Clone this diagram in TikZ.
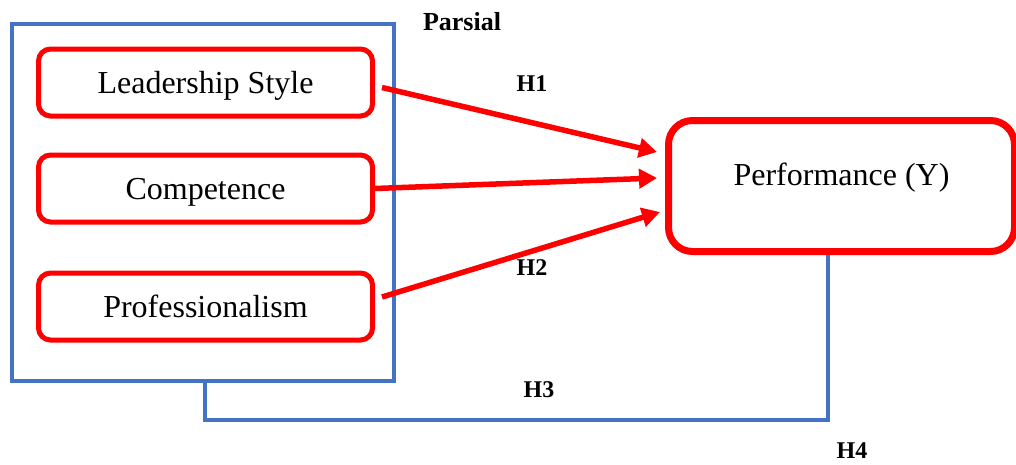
\documentclass[tikz,border=0pt]{standalone}
\usepackage{fontspec}
\setmainfont{Liberation Serif}
\usetikzlibrary{arrows.meta}
\definecolor{bl}{HTML}{4472C4}
\definecolor{rd}{HTML}{FF0000}
\begin{document}
\begin{tikzpicture}[x=1pt,y=-1pt,
  redbox/.style={draw=rd,line width=5pt,rounded corners=12pt,minimum width=334pt,minimum height=67pt,
     inner sep=0pt,font=\fontsize{32}{38}\selectfont,text height=22pt,text depth=1pt},
  perfbox/.style={draw=rd,line width=7pt,rounded corners=24pt,minimum width=346pt,minimum height=131pt,
     inner sep=0pt,font=\fontsize{32}{38}\selectfont,text height=22pt,text depth=23pt},
  grpbox/.style={draw=bl,line width=4pt,minimum width=382pt,minimum height=357pt,inner sep=0pt},
  lbl/.style={font=\fontsize{24}{28}\selectfont\bfseries,inner sep=0pt},
  arr/.style={draw=rd,line width=5.5pt,-{Triangle[length=18pt,width=19pt]}},
  conn/.style={draw=bl,line width=4pt}]
\useasboundingbox (0,0) rectangle (1016,464);
\node[grpbox] (grp) at (203,202.5) {};
\node[redbox] (ls) at (205.5,82.5) {Leadership Style};
\node[redbox] (cp) at (205.5,188.5) {Competence};
\node[redbox] (pf) at (205.5,306.5) {Professionalism};
\node[perfbox] (perf) at (841.5,186) {Performance (Y)};
\node[lbl,font=\fontsize{26}{30}\selectfont\bfseries] (parsial) at (462,22) {Parsial};
\node[lbl] (h1) at (532,84) {H1};
\node[lbl] (h2) at (532,268) {H2};
\node[lbl] (h3) at (539,390) {H3};
\node[lbl] (h4) at (852,451) {H4};
\draw[arr] ([xshift=7pt,yshift=-5pt]ls.east) -- ([xshift=-8pt,yshift=34pt]perf.west);
\draw[arr] (cp.east) -- ([xshift=-8pt,yshift=8pt]perf.west);
\draw[arr] ([xshift=7pt,yshift=9.5pt]pf.east) -- ([xshift=-5pt,yshift=-26pt]perf.west);
\coordinate (h4c) at (828,420);
\draw[conn] ([xshift=2pt]grp.south) |- (h4c) -- (h4c |- perf.south);
\end{tikzpicture}
\end{document}
